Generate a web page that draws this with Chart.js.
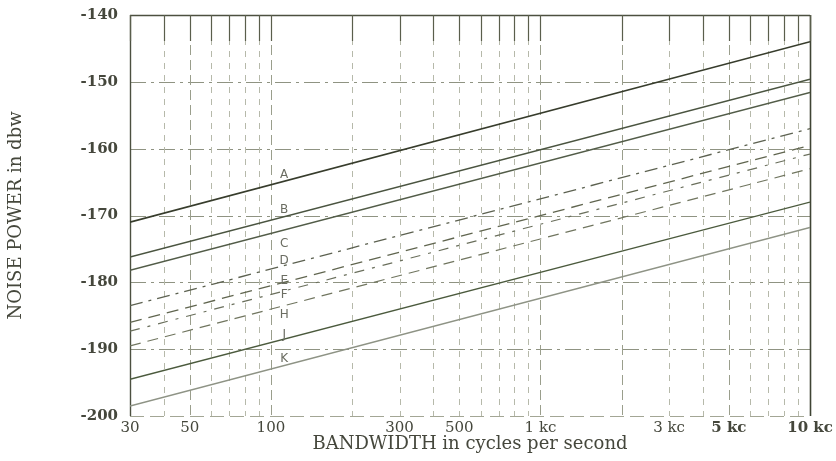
<!DOCTYPE html>
<html>
<head>
<meta charset="utf-8">
<script src="https://cdn.jsdelivr.net/npm/chart.js@4.4.1/dist/chart.umd.min.js"></script>
<style>
  html, body { margin: 0; padding: 0; background: #ffffff; }
  #wrap { width: 836px; height: 461px; position: relative; }
</style>
</head>
<body>
<div id="wrap"><canvas id="c" width="836" height="461"></canvas></div>
<script>
// ---- data ----
const bandwidth = [30, 10000];           // cycles per second, ends of each line
const lineNames = ['A', 'B', 'C', 'D', 'E', 'F', 'H', 'J', 'K'];
const lineA = [-171.0, -144.0];
const lineB = [-176.2, -149.6];
const lineC = [-178.2, -151.6];
const lineD = [-183.5, -157.0];
const lineE = [-186.0, -159.5];
const lineF = [-187.3, -160.8];
const lineH = [-189.5, -163.0];
const lineJ = [-194.5, -168.0];
const lineK = [-198.5, -171.8];
const labelFreq = 112;
const labelValues = [-163.9, -169.1, -174.3, -176.8, -179.8, -181.9, -184.8, -187.8, -191.4];
const xTickValues = [30, 50, 100, 300, 500, 1000, 3000, 5000, 10000];
const xTickLabels = ['30', '50', '100', '300', '500', '1 kc', '3 kc', '5 kc', '10 kc'];
const yTickValues = [-200, -190, -180, -170, -160, -150, -140];
const gridFreqs = [30, 40, 50, 60, 70, 80, 90, 100, 200, 300, 400, 500, 600, 700, 800, 900,
                   1000, 2000, 3000, 4000, 5000, 6000, 7000, 8000, 9000, 10000];

const seriesValues = [lineA, lineB, lineC, lineD, lineE, lineF, lineH, lineJ, lineK];
const lineColors = ['#373c2c', '#4a5440', '#525c48', '#5c6150', '#60654f', '#6a6f5c', '#70755f', '#4b5a3d', '#8e9385'];
const lineDashes = [[], [], [], [13, 6, 3, 6], [12, 7], [10, 8, 3, 8], [11, 7], [], []];
const lineWidths = [1.6, 1.5, 1.4, 1.3, 1.3, 1.2, 1.2, 1.4, 1.6];

const datasets = seriesValues.map((vals, i) => ({
  label: lineNames[i],
  data: bandwidth.map((b, j) => ({ x: b, y: vals[j] })),
  borderColor: lineColors[i],
  borderWidth: lineWidths[i],
  borderDash: lineDashes[i],
  pointRadius: 0,
  fill: false,
  tension: 0
}));

const serif = '"DejaVu Serif", "Liberation Serif", serif';
const textColor = '#45473c';

const gridPlugin = {
  id: 'paperGrid',
  beforeDatasetsDraw(chart) {
    const { ctx, chartArea: a, scales: { x, y } } = chart;
    ctx.save();
    yTickValues.forEach(v => {
      const py = Math.round(y.getPixelForValue(v)) + 0.5;
      ctx.beginPath();
      if (v === -140) { ctx.setLineDash([]); ctx.strokeStyle = '#4c5040'; ctx.lineWidth = 1.3; }
      else if (v === -200) { ctx.setLineDash([14, 6]); ctx.strokeStyle = '#a3a695'; ctx.lineWidth = 1; }
      else { ctx.setLineDash([16, 5, 3, 5]); ctx.strokeStyle = '#8f9382'; ctx.lineWidth = 1; }
      ctx.moveTo(a.left, py); ctx.lineTo(a.right, py); ctx.stroke();
    });
    gridFreqs.forEach(f => {
      const px = Math.round(x.getPixelForValue(f)) + 0.5;
      ctx.beginPath();
      if (f === 30) { ctx.setLineDash([]); ctx.strokeStyle = '#4c5040'; ctx.lineWidth = 1.4; }
      else if (f === 10000) { ctx.setLineDash([]); ctx.strokeStyle = '#3f4434'; ctx.lineWidth = 1.6; }
      else if (f === 50 || f === 100 || f === 1000 || f === 2000 || f === 5000) { ctx.setLineDash([10, 5]); ctx.strokeStyle = '#9a9e8c'; ctx.lineWidth = 1; }
      else { ctx.setLineDash([6, 6]); ctx.strokeStyle = '#b6b9aa'; ctx.lineWidth = 1; }
      ctx.moveTo(px, a.top); ctx.lineTo(px, a.bottom); ctx.stroke();
      ctx.setLineDash([]);
      ctx.strokeStyle = '#5a5e4c'; ctx.lineWidth = 1.2;
      ctx.beginPath(); ctx.moveTo(px, a.top); ctx.lineTo(px, a.top + 26); ctx.stroke();
    });
    ctx.restore();
  },
  afterDatasetsDraw(chart) {
    const { ctx, scales: { x, y } } = chart;
    ctx.save();
    ctx.font = '12px "DejaVu Sans", sans-serif';
    ctx.fillStyle = '#6b6d62';
    ctx.textAlign = 'center';
    ctx.textBaseline = 'middle';
    lineNames.forEach((n, i) => {
      ctx.fillText(n, x.getPixelForValue(labelFreq), y.getPixelForValue(labelValues[i]));
    });
    ctx.restore();
  }
};

new Chart(document.getElementById('c'), {
  type: 'line',
  data: { datasets },
  plugins: [gridPlugin],
  options: {
    responsive: false,
    animation: false,
    layout: { padding: { top: 15, right: 26, left: 0, bottom: 0 } },
    plugins: { legend: { display: false }, tooltip: { enabled: false } },
    scales: {
      x: {
        type: 'logarithmic',
        min: 30,
        max: 10000,
        afterBuildTicks: s => { s.ticks = xTickValues.map(v => ({ value: v })); },
        afterFit: s => { s.height = 45; s.paddingLeft = 0; s.paddingRight = 0; },
        grid: { display: false, drawTicks: false },
        border: { display: false },
        ticks: {
          autoSkip: false,
          maxRotation: 0,
          padding: 3,
          color: textColor,
          font: ctx => {
            const v = ctx.tick ? ctx.tick.value : 0;
            return { family: serif, size: 15, weight: (v === 5000 || v === 10000) ? 'bold' : 'normal' };
          },
          callback: v => {
            const i = xTickValues.indexOf(v);
            return i >= 0 ? xTickLabels[i] : '';
          }
        },
        title: {
          display: true,
          text: 'BANDWIDTH in cycles per second',
          color: textColor,
          font: { family: serif, size: 18 },
          padding: { top: 0, bottom: 6 }
        }
      },
      y: {
        type: 'linear',
        min: -200,
        max: -140,
        afterBuildTicks: s => { s.ticks = yTickValues.map(v => ({ value: v })); },
        afterFit: s => { s.width = 130; s.paddingTop = 0; s.paddingBottom = 0; },
        grid: { display: false, drawTicks: false },
        border: { display: false },
        ticks: {
          padding: 12,
          color: textColor,
          font: { family: serif, size: 15, weight: 'bold' },
          callback: v => String(v)
        },
        title: {
          display: true,
          text: 'NOISE POWER in dbw',
          color: textColor,
          font: { family: serif, size: 18 },
          padding: { top: 6, bottom: 0 }
        }
      }
    }
  }
});
</script>
</body>
</html>
